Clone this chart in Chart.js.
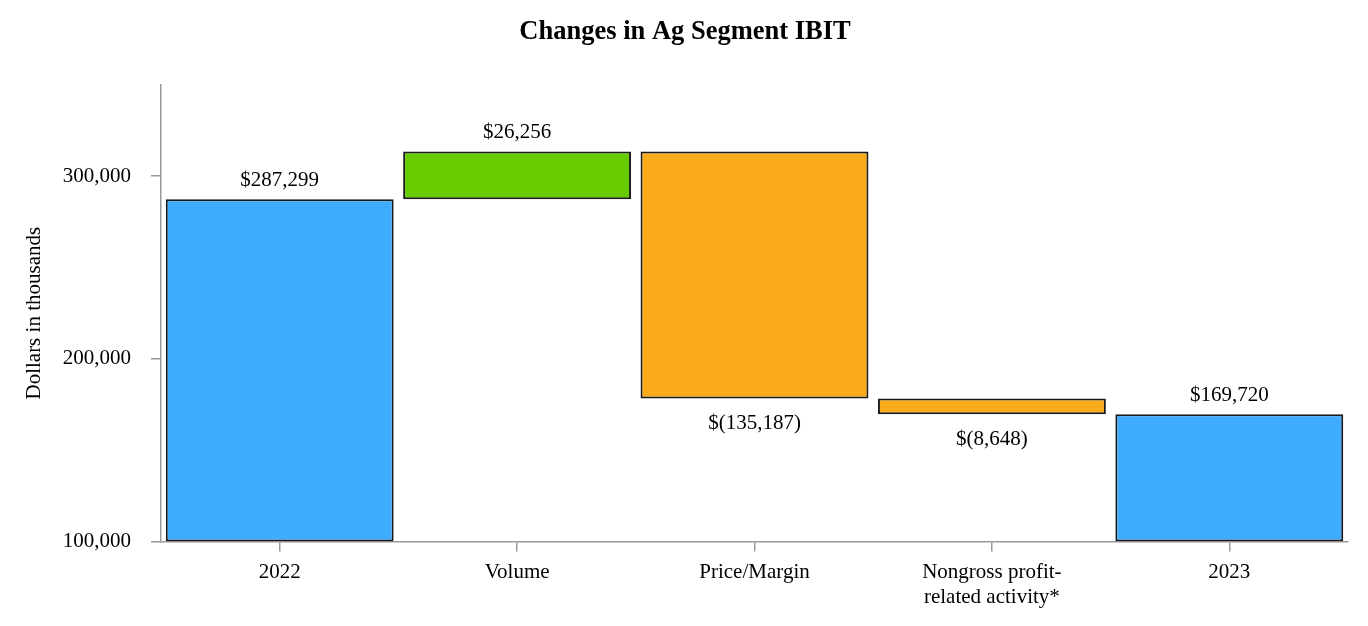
<!DOCTYPE html>
<html>
<head>
<meta charset="utf-8">
<script src="https://cdn.jsdelivr.net/npm/chart.js@4"></script>
<style>
html,body{margin:0;padding:0;background:#fff;}
#wrap{width:1368px;height:626px;}
</style>
</head>
<body>
<div id="wrap"><canvas id="c" width="1368" height="626"></canvas></div>
<script>
const categories = ["2022", "Volume", "Price/Margin", ["Nongross profit-", "related activity*"], "2023"];
const startValue = 287299;
const changes = [26256, -135187, -8648];
const endValue = 169720;
const valueLabels = ["$287,299", "$26,256", "$(135,187)", "$(8,648)", "$169,720"];
const yTicks = [100000, 200000, 300000];
const axisMin = 100000, axisMax = 350000;

const colors = ["#40acff", "#66cc00", "#f9ab1a", "#f9ab1a", "#40acff"];

// build floating bars
const floating = [[axisMin, startValue]];
let run = startValue;
changes.forEach(d => { floating.push([run, run + d]); run += d; });
floating.push([axisMin, endValue]);

const FONT = "'Liberation Serif', 'Times New Roman', serif";

const labelPlugin = {
  id: 'valLabels',
  afterDatasetsDraw(chart) {
    const ctx = chart.ctx;
    const meta = chart.getDatasetMeta(0);
    ctx.save();
    ctx.font = "21px " + FONT;
    ctx.fillStyle = "#000";
    ctx.textAlign = "center";
    ctx.textBaseline = "middle";
    meta.data.forEach((el, i) => {
      const top = Math.min(el.y, el.base);
      const bottom = Math.max(el.y, el.base);
      const isNeg = (i >= 1 && i <= 3) && changes[i - 1] < 0;
      const y = isNeg ? bottom + 25 : top - 19;
      ctx.fillText(valueLabels[i], el.x, y);
    });
    ctx.restore();
  }
};

new Chart(document.getElementById('c'), {
  type: 'bar',
  data: {
    labels: categories,
    datasets: [{
      data: floating,
      backgroundColor: colors,
      borderColor: "#1a1a1a",
      borderWidth: 2,
      borderSkipped: false,
      categoryPercentage: 1.0,
      barPercentage: 0.96
    }]
  },
  options: {
    responsive: false,
    animation: false,
    layout: { padding: { left: 22, right: 20, top: 0, bottom: 8 } },
    plugins: {
      legend: { display: false },
      tooltip: { enabled: false },
      title: {
        display: true,
        text: "Changes in Ag Segment IBIT",
        color: "#000",
        font: { family: FONT, size: 26.5, weight: 'bold' },
        padding: { top: 16, bottom: 37 }
      }
    },
    scales: {
      x: {
        grid: { offset: false, drawOnChartArea: false, drawTicks: true, tickLength: 10, color: "#999", lineWidth: 1.5 },
        border: { color: "#999", width: 1.5 },
        ticks: { color: "#000", font: { family: FONT, size: 21, lineHeight: 1.2 }, padding: 8, maxRotation: 0, autoSkip: false }
      },
      y: {
        min: axisMin,
        max: axisMax,
        afterBuildTicks(scale) { scale.ticks = yTicks.map(v => ({ value: v })); },
        afterFit(scale) { scale.width = 139; },
        grid: { drawOnChartArea: false, drawTicks: true, tickLength: 10, color: "#999", lineWidth: 1.5 },
        border: { color: "#999", width: 1.5 },
        ticks: {
          color: "#000", font: { family: FONT, size: 21 }, padding: 20,
          callback: v => v.toLocaleString('en-US')
        },
        title: {
          display: true, text: "Dollars in thousands", color: "#000",
          font: { family: FONT, size: 21 }, padding: { top: 0, bottom: 15 }
        }
      }
    }
  },
  plugins: [labelPlugin]
});
</script>
</body>
</html>
